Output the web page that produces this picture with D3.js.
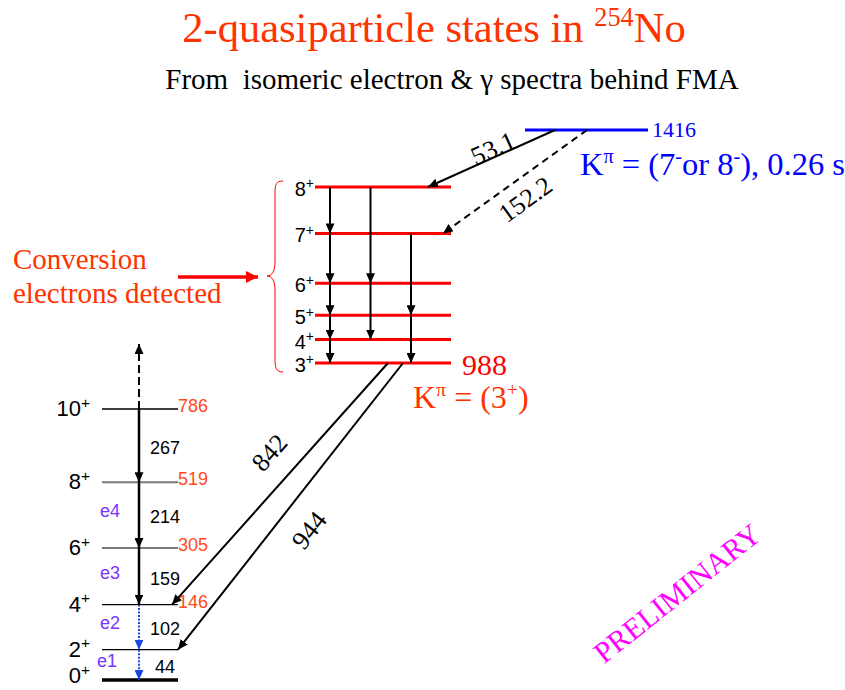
<!DOCTYPE html>
<html>
<head>
<meta charset="utf-8">
<script src="https://cdn.jsdelivr.net/npm/d3@7"></script>
<style>
  body { margin: 0; background: #fff; }
  svg { display: block; }
</style>
</head>
<body>
<div id="chart"></div>
<script>
// ground-state band of 254No
const groundSpins = [0, 2, 4, 6, 8, 10];
const groundEnergies = [0, 44, 146, 305, 519, 786];
const groundGammas = ["44", "102", "159", "214", "267"];
const electronLabels = ["e1", "e2", "e3", "e4"];

// K = 3+ band (only the head energy is printed, the rest are estimates)
const bandSpins = [3, 4, 5, 6, 7, 8];
const bandEnergies = [988, 1038, 1090, 1158, 1264, 1363];
const bandGammas = [
  { from: 8, to: 7, col: 0 }, { from: 7, to: 6, col: 0 }, { from: 6, to: 5, col: 0 },
  { from: 5, to: 4, col: 0 }, { from: 4, to: 3, col: 0 },
  { from: 8, to: 6, col: 1 }, { from: 6, to: 4, col: 1 },
  { from: 7, to: 5, col: 2 }, { from: 5, to: 3, col: 2 }
];

// isomer and its decays
const isomerEnergy = 1416;
const isomerDecays = [
  { label: "53.1", to: 8, dashed: false },
  { label: "152.2", to: 7, dashed: true }
];
const crossDecays = [
  { label: "842", to: 4 },
  { label: "944", to: 2 }
];

const W = 845, H = 690;
const serif = "'Liberation Serif', 'Times New Roman', serif";
const sans = "'Liberation Sans', Arial, sans-serif";
const orange = "#ff3300";

const svg = d3.select("#chart").append("svg")
  .attr("width", W)
  .attr("height", H);

const defs = svg.append("defs");
function marker(id, color, len, wid) {
  defs.append("marker")
    .attr("id", id)
    .attr("markerUnits", "userSpaceOnUse")
    .attr("viewBox", `0 0 ${len} ${wid}`)
    .attr("refX", len)
    .attr("refY", wid / 2)
    .attr("markerWidth", len)
    .attr("markerHeight", wid)
    .attr("orient", "auto")
    .append("path")
    .attr("d", `M0,0L${len},${wid / 2}L0,${wid}Z`)
    .attr("fill", color);
}
marker("head-black", "#000", 10, 9);
marker("head-blue", "#1a45e0", 10, 9);
marker("head-red", "#ff0000", 12, 12);

// text with superscripts: parts starting with "^" are raised
function rich(sel, parts, size, supScale = 0.62) {
  let up = 0;
  parts.forEach(p => {
    const sup = p.startsWith("^");
    const target = sup ? -size * 0.38 : 0;
    sel.append("tspan")
      .attr("dy", target - up)
      .attr("font-size", sup ? size * supScale : size)
      .text(sup ? p.slice(1) : p);
    up = target;
  });
  return sel;
}

// ---- scales
const yGround = d3.scalePow().exponent(0.76).domain([0, 786]).range([680, 409]);
const yBand = d3.scaleLinear().domain([988, 1363, isomerEnergy]).range([363, 187, 130]);
const bandY = s => yBand(bandEnergies[bandSpins.indexOf(s)]);
const groundY = s => yGround(groundEnergies[groundSpins.indexOf(s)]);

const gX = [102, 178], gArrowX = 139;
const bX = [315, 451];
const colX = d3.scalePoint().domain([0, 1, 2]).range([330, 411]);
const isoX = [525, 648];

// ---- titles
rich(svg.append("text")
  .attr("x", 434).attr("y", 42)
  .attr("text-anchor", "middle")
  .attr("font-family", serif)
  .attr("fill", orange), ["2-quasiparticle states in ", "^254", "No"], 42.5);

svg.append("text")
  .attr("x", 452).attr("y", 89)
  .attr("text-anchor", "middle")
  .attr("font-family", serif)
  .attr("font-size", 29)
  .style("white-space", "pre")
  .text("From  isomeric electron & \u03b3 spectra behind FMA");

// ---- ground band
const gLevels = svg.append("g");
gLevels.selectAll("line")
  .data(groundSpins)
  .join("line")
  .attr("x1", gX[0]).attr("x2", gX[1])
  .attr("y1", d => groundY(d)).attr("y2", d => groundY(d))
  .attr("stroke", d => (d === 6 || d === 8) ? "#7a7a7a" : "#000")
  .attr("stroke-width", d => d === 0 ? 3.5 : (d === 6 || d === 8) ? 2 : 1.3);

gLevels.selectAll("text.spin")
  .data(groundSpins)
  .join("text")
  .attr("class", "spin")
  .attr("x", 90)
  .attr("y", d => Math.min(groundY(d) + 7, H - 7))
  .attr("text-anchor", "end")
  .attr("font-family", sans)
  .each(function(d) { rich(d3.select(this), [String(d), "^+"], 22, 0.7); });

gLevels.selectAll("text.energy")
  .data(groundEnergies.filter(e => e > 100))
  .join("text")
  .attr("class", "energy")
  .attr("x", gX[1])
  .attr("y", d => yGround(d) + 3)
  .attr("font-family", sans)
  .attr("font-size", 18)
  .attr("fill", "#ff4a1a")
  .text(d => d);

// gamma / electron transitions down the ground band
const gTrans = groundGammas.map((label, i) => ({
  label,
  y1: yGround(groundEnergies[i + 1]),
  y2: yGround(groundEnergies[i]),
  blue: i < 2,
  e: electronLabels[i]
}));

svg.append("g").selectAll("line")
  .data(gTrans)
  .join("line")
  .attr("x1", gArrowX).attr("x2", gArrowX)
  .attr("y1", d => d.y1).attr("y2", d => d.y2)
  .attr("stroke", d => d.blue ? "#1a45e0" : "#000")
  .attr("stroke-width", d => d.blue ? 2 : 2.5)
  .attr("stroke-dasharray", d => d.blue ? "2,1.5" : null)
  .attr("marker-end", d => d.blue ? "url(#head-blue)" : "url(#head-black)");

svg.append("g").selectAll("text")
  .data(gTrans)
  .join("text")
  .attr("x", 165)
  .attr("y", d => (d.y1 + d.y2) / 2 + 2)
  .attr("dy", "0.35em")
  .attr("text-anchor", "middle")
  .attr("font-family", sans)
  .attr("font-size", 18)
  .text(d => d.label);

svg.append("g").selectAll("text")
  .data(gTrans.filter(d => d.e))
  .join("text")
  .attr("x", (d, i) => i === 0 ? 97 : 100)
  .attr("y", d => (d.y1 + d.y2) / 2 - 4)
  .attr("dy", "0.35em")
  .attr("font-family", sans)
  .attr("font-size", 18)
  .attr("fill", "#7a33ff")
  .text(d => d.e);

// feeding from above the 10+ level
svg.append("line")
  .attr("x1", gArrowX).attr("x2", gArrowX)
  .attr("y1", groundY(10)).attr("y2", 344)
  .attr("stroke", "#000")
  .attr("stroke-width", 2)
  .attr("stroke-dasharray", "8,4")
  .attr("marker-end", "url(#head-black)");

// ---- K = 3+ band
const bLevels = svg.append("g");
bLevels.selectAll("line")
  .data(bandSpins)
  .join("line")
  .attr("x1", bX[0]).attr("x2", bX[1])
  .attr("y1", d => bandY(d)).attr("y2", d => bandY(d))
  .attr("stroke", "#ff0000")
  .attr("stroke-width", 3);

bLevels.selectAll("text")
  .data(bandSpins)
  .join("text")
  .attr("x", 314)
  .attr("y", d => bandY(d) + 9)
  .attr("text-anchor", "end")
  .attr("font-family", sans)
  .each(function(d) { rich(d3.select(this), [String(d), "^+"], 20, 0.7); });

svg.append("g").selectAll("line")
  .data(bandGammas)
  .join("line")
  .attr("x1", d => colX(d.col)).attr("x2", d => colX(d.col))
  .attr("y1", d => bandY(d.from)).attr("y2", d => bandY(d.to))
  .attr("stroke", "#000")
  .attr("stroke-width", 2)
  .attr("marker-end", "url(#head-black)");

svg.append("text")
  .attr("x", 462).attr("y", yBand(988) + 12)
  .attr("font-family", serif)
  .attr("font-size", 30)
  .attr("fill", "#ff0000")
  .text(bandEnergies[0]);

rich(svg.append("text")
  .attr("x", 413).attr("y", 408)
  .attr("font-family", serif)
  .attr("fill", orange), ["K", "^\u03c0", " = (3", "^+", ")"], 32);

// curly brace around the band
svg.append("path")
  .attr("d", "M283,181 C276,181 275,184 275,194 L275,262 C275,271 272,276 267,276 C272,276 275,281 275,290 L275,358 C275,368 276,372 283,372")
  .attr("fill", "none")
  .attr("stroke", "#ff0000")
  .attr("stroke-width", 1);

// conversion-electron note
const conv = svg.append("text")
  .attr("font-family", serif)
  .attr("font-size", 29)
  .attr("fill", orange);
conv.append("tspan").attr("x", 13).attr("y", 269).text("Conversion");
conv.append("tspan").attr("x", 13).attr("y", 303).text("electrons detected");

svg.append("line")
  .attr("x1", 178).attr("x2", 258)
  .attr("y1", 277).attr("y2", 277)
  .attr("stroke", "#ff0000")
  .attr("stroke-width", 3.5)
  .attr("marker-end", "url(#head-red)");

// ---- isomer
const isoY = yBand(isomerEnergy);
svg.append("line")
  .attr("x1", isoX[0]).attr("x2", isoX[1])
  .attr("y1", isoY).attr("y2", isoY)
  .attr("stroke", "#0000ff")
  .attr("stroke-width", 3);

svg.append("text")
  .attr("x", isoX[1] + 4).attr("y", isoY + 7)
  .attr("font-family", serif)
  .attr("font-size", 22)
  .attr("fill", "#0000ff")
  .text(isomerEnergy);

rich(svg.append("text")
  .attr("x", 580).attr("y", 175)
  .attr("font-family", serif)
  .attr("fill", "#0000ff"), ["K", "^\u03c0", " = (7", "^-", "or 8", "^-", "), 0.26 s"], 32.5);

// sloped transitions with rotated labels
function sloped(g, x1, y1, x2, y2, label, t, off, dashed) {
  g.append("line")
    .attr("x1", x1).attr("y1", y1)
    .attr("x2", x2).attr("y2", y2)
    .attr("stroke", "#000")
    .attr("stroke-width", 2)
    .attr("stroke-dasharray", dashed ? "7,5" : null)
    .attr("marker-end", "url(#head-black)");
  const dx = x2 - x1, dy = y2 - y1, len = Math.hypot(dx, dy);
  const ux = dx / len, uy = dy / len;
  // normal pointing to the upper-left side of the line
  const nx = -uy, ny = ux;
  const sgn = ny < 0 ? 1 : -1;
  const cx = x1 + dx * t + sgn * nx * off;
  const cy = y1 + dy * t + sgn * ny * off;
  const ang = -Math.atan2(Math.abs(dy), Math.abs(dx)) * 180 / Math.PI;
  g.append("text")
    .attr("transform", `translate(${cx},${cy}) rotate(${ang})`)
    .attr("text-anchor", "middle")
    .attr("dy", "0.35em")
    .attr("font-family", serif)
    .attr("font-size", 26)
    .text(label);
}

const slopes = svg.append("g");
const isoStartX = d3.scalePoint().domain(isomerDecays.map(d => d.label)).range([555, 587]);
const isoEndX = d3.scalePoint().domain(isomerDecays.map(d => d.label)).range([428, 443]);
const isoLabel = { "53.1": [0.46, 9], "152.2": [0.51, -20] };
isomerDecays.forEach(d => {
  sloped(slopes, isoStartX(d.label), isoY, isoEndX(d.label), bandY(d.to),
    d.label, isoLabel[d.label][0], isoLabel[d.label][1], d.dashed);
});

const crossStartX = d3.scalePoint().domain(crossDecays.map(d => d.label)).range([388, 403]);
const crossEndX = d3.scalePoint().domain(crossDecays.map(d => d.label)).range([gX[1] - 6, gX[1]]);
const crossLabel = { "842": [0.45, 29], "944": [0.52, -29] };
crossDecays.forEach(d => {
  sloped(slopes, crossStartX(d.label), bandY(3), crossEndX(d.label), groundY(d.to),
    d.label, crossLabel[d.label][0], crossLabel[d.label][1], false);
});

// watermark
svg.append("text")
  .attr("transform", "translate(677,593) rotate(-38.5)")
  .attr("text-anchor", "middle")
  .attr("dy", "0.35em")
  .attr("font-family", serif)
  .attr("font-size", 30)
  .attr("fill", "#ff00ff")
  .text("PRELIMINARY");
</script>
</body>
</html>
